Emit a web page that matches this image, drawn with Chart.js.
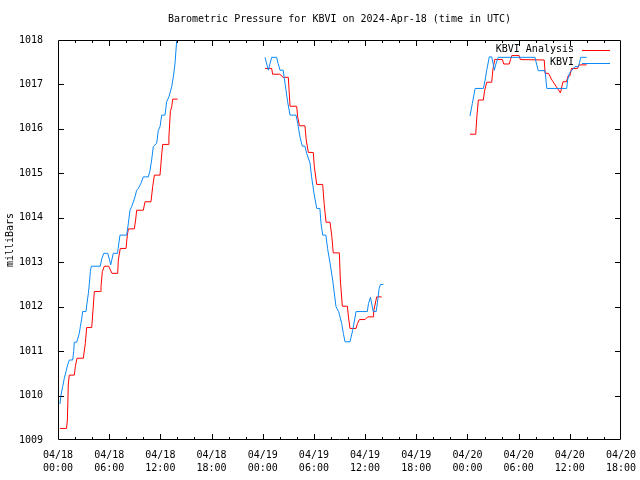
<!DOCTYPE html>
<html>
<head>
<meta charset="utf-8">
<script src="https://cdn.jsdelivr.net/npm/chart.js@4"></script>
<style>
  html, body { margin: 0; padding: 0; background: #fff; }
  canvas { display: block; }
</style>
</head>
<body>
<canvas id="chart" width="640" height="480"></canvas>
<script>
// hours since 04/18 00:00 UTC, null = gap in the record
const analysisHours = [
    0.23, 1.0, 1.1, 1.21, 1.32, 1.91, 2.03, 2.23, 2.97, 3.05, 3.2, 3.36, 3.95, 4.02, 4.26, 4.96, 5.04, 5.2, 5.43, 5.94,
    6.33, 7.0, 7.07, 7.3, 7.97, 8.13, 8.25, 8.95, 9.1, 9.22, 10.0, 10.2, 10.9, 11.1, 11.3, 11.96, 12.15, 12.27, 12.93,
    13.0, 13.17, 13.33, 13.45, 14.03,
    20,
    24.27, 25.05, 25.16, 26.0, 26.4, 27.0, 27.2, 27.98, 28.1, 28.3, 28.95, 29.1, 29.35, 29.93, 30.05, 30.33, 31.03,
    31.2, 31.42, 31.89, 32.1, 32.27, 32.98, 33.1, 33.33, 33.92, 34.05, 34.23, 34.94, 35.1, 35.33, 36.0, 36.3, 36.97,
    37.0, 37.36, 37.95,
    44,
    48.3, 48.97, 49.1, 49.28, 49.86, 50.0, 50.26, 50.84, 51.0, 51.2, 52.1, 52.25, 52.9, 53.05, 53.2, 54.05, 54.2,
    57.0, 57.1, 57.5, 57.9, 58.9, 59.2, 59.6, 59.8, 60.0, 60.2, 60.9, 61.1, 61.97
];
const analysisMb = [
    1009.26, 1009.26, 1009.45, 1010.26, 1010.46, 1010.46, 1010.65, 1010.84, 1010.84, 1010.96, 1011.17, 1011.53, 1011.53,
    1011.70, 1012.34, 1012.34, 1012.45, 1012.79, 1012.91, 1012.91, 1012.75, 1012.75, 1013.05, 1013.31, 1013.31, 1013.61,
    1013.75, 1013.75, 1013.95, 1014.17, 1014.17, 1014.36, 1014.36, 1014.70, 1014.96, 1014.96, 1015.41, 1015.65, 1015.65,
    1015.82, 1016.39, 1016.50, 1016.67, 1016.67,
    null,
    1017.36, 1017.36, 1017.23, 1017.23, 1017.16, 1017.16, 1016.51, 1016.51, 1016.27, 1016.07, 1016.07, 1015.75, 1015.47,
    1015.47, 1015.15, 1014.75, 1014.75, 1014.32, 1013.90, 1013.90, 1013.58, 1013.21, 1013.21, 1012.60, 1012.01, 1012.01,
    1011.77, 1011.51, 1011.51, 1011.62, 1011.71, 1011.71, 1011.77, 1011.77, 1011.89, 1012.22, 1012.22,
    null,
    1015.88, 1015.88, 1016.27, 1016.65, 1016.65, 1016.85, 1017.05, 1017.05, 1017.36, 1017.56, 1017.56, 1017.46, 1017.46,
    1017.56, 1017.65, 1017.65, 1017.56, 1017.55, 1017.25, 1017.25, 1017.10, 1016.81, 1017.06, 1017.06, 1017.19, 1017.19,
    1017.36, 1017.36, 1017.44, 1017.44
];

const kbviHours = [
    0.23, 0.35, 0.55, 0.74, 0.94, 1.13, 1.33, 1.72, 1.84, 1.91, 2.19, 2.3, 2.5, 2.62, 2.77, 2.89, 3.28, 3.4, 3.56, 3.68,
    3.79, 3.91, 4.96, 5.12, 5.36, 5.83, 6.05, 6.18, 6.48, 6.98, 7.05, 7.27, 8.05, 8.25, 8.44, 8.64, 9.03, 9.22, 9.42,
    9.73, 10.0, 10.59, 10.79, 10.98, 11.17, 11.57, 11.76, 11.96, 12.16, 12.54, 12.74, 13.0, 13.33, 13.52, 13.72, 13.92,
    14.1,
    20,
    24.27, 24.66, 25.05, 25.63, 25.8, 26.03, 26.4, 26.53, 26.73, 26.92, 27.2, 27.9, 28.1, 28.37, 28.64, 28.95, 29.15,
    29.54, 29.73, 30.01, 30.33, 30.7, 30.83, 31.03, 31.4, 31.6, 31.89, 32.2, 32.59, 32.9, 33.26, 33.45, 33.65, 34.23,
    34.55, 34.94, 36.26, 36.4, 36.63, 36.95, 37.3, 37.45, 37.65, 37.8, 38.14,
    44,
    48.3, 48.57, 48.9, 49.87, 50.07, 50.26, 50.56, 50.84, 51.04, 51.15, 51.3, 51.6, 55.92, 56.1, 56.3, 57.1, 57.3,
    59.63, 59.75, 59.94, 60.2, 60.6, 61.0, 61.15, 61.27, 61.97
];
const kbviMb = [
    1009.81, 1010.01, 1010.20, 1010.39, 1010.54, 1010.69, 1010.80, 1010.80, 1010.99, 1011.20, 1011.20, 1011.27, 1011.40,
    1011.55, 1011.72, 1011.89, 1011.89, 1012.08, 1012.30, 1012.53, 1012.79, 1012.91, 1012.91, 1013.07, 1013.20, 1013.20,
    1013.05, 1012.94, 1013.20, 1013.20, 1013.31, 1013.61, 1013.61, 1013.88, 1014.17, 1014.25, 1014.47, 1014.62, 1014.66,
    1014.78, 1014.92, 1014.92, 1015.07, 1015.30, 1015.60, 1015.68, 1015.97, 1016.05, 1016.31, 1016.31, 1016.61, 1016.72,
    1016.95, 1017.17, 1017.48, 1018.00, 1018.40,
    null,
    1017.61, 1017.32, 1017.61, 1017.61, 1017.47, 1017.32, 1017.32, 1017.14, 1016.87, 1016.61, 1016.31, 1016.31, 1016.13,
    1015.82, 1015.61, 1015.61, 1015.45, 1015.23, 1014.92, 1014.55, 1014.21, 1014.21, 1013.88, 1013.61, 1013.61, 1013.31,
    1012.98, 1012.60, 1012.00, 1011.89, 1011.62, 1011.40, 1011.21, 1011.21, 1011.47, 1011.89, 1011.89, 1012.07, 1012.21,
    1011.89, 1011.89, 1012.10, 1012.41, 1012.50, 1012.50,
    null,
    1016.29, 1016.57, 1016.91, 1016.91, 1017.10, 1017.32, 1017.62, 1017.62, 1017.44, 1017.32, 1017.44, 1017.61, 1017.61,
    1017.46, 1017.31, 1017.31, 1016.91, 1016.91, 1017.10, 1017.25, 1017.31, 1017.40, 1017.40, 1017.50, 1017.61, 1017.61
];

const xTickDates = ['04/18', '04/18', '04/18', '04/18', '04/19', '04/19', '04/19', '04/19', '04/20', '04/20', '04/20', '04/20'];
const xTickTimes = ['00:00', '06:00', '12:00', '18:00', '00:00', '06:00', '12:00', '18:00', '00:00', '06:00', '12:00', '18:00'];
const seriesNames = ['KBVI Analysis', 'KBVI'];
const seriesColors = ['#ff0000', '#0a88f5'];

const FONT = '10px "DejaVu Sans Mono", "Liberation Mono", monospace';

const toPoints = (hours, mb) => hours.map((h, i) => ({ x: h, y: mb[i] }));

// frame, inward ticks on all four sides, title, y label and gnuplot-like key
const gnuplotDecor = {
    id: 'gnuplotDecor',
    afterDraw(chart) {
        const ctx = chart.ctx;
        const area = chart.chartArea;
        const xs = chart.scales.x;
        const ys = chart.scales.y;
        ctx.save();
        ctx.strokeStyle = '#000';
        ctx.lineWidth = 1;
        ctx.beginPath();
        ctx.rect(area.left + 0.5, area.top + 0.5, area.right - area.left - 1, area.bottom - area.top - 1);
        ctx.stroke();

        ctx.beginPath();
        for (let h = 2; h < 66; h += 2) {
            const px = Math.round(xs.getPixelForValue(h)) + 0.5;
            const len = h % 6 === 0 ? 6 : 3;
            ctx.moveTo(px, area.bottom);
            ctx.lineTo(px, area.bottom - len);
            ctx.moveTo(px, area.top);
            ctx.lineTo(px, area.top + len);
        }
        for (let v = 1010; v < 1018; v++) {
            const py = Math.round(ys.getPixelForValue(v)) + 0.5;
            ctx.moveTo(area.left, py);
            ctx.lineTo(area.left + 6, py);
            ctx.moveTo(area.right, py);
            ctx.lineTo(area.right - 6, py);
        }
        ctx.stroke();

        ctx.fillStyle = '#000';
        ctx.font = FONT;
        ctx.textAlign = 'center';
        ctx.textBaseline = 'middle';
        ctx.fillText('Barometric Pressure for KBVI on 2024-Apr-18 (time in UTC)', (area.left + area.right) / 2, 19);

        ctx.save();
        ctx.translate(10, 240);
        ctx.rotate(-Math.PI / 2);
        ctx.fillText('milliBars', 0, 0);
        ctx.restore();

        // key
        const rows = [49.5, 62.5];
        seriesNames.forEach((name, i) => {
            ctx.fillStyle = '#000';
            ctx.textAlign = 'right';
            ctx.fillText(name, 574, rows[i]);
            ctx.strokeStyle = seriesColors[i];
            ctx.beginPath();
            ctx.moveTo(582, Math.round(rows[i]) + 0.5);
            ctx.lineTo(610, Math.round(rows[i]) + 0.5);
            ctx.stroke();
        });
        ctx.restore();
    }
};

new Chart(document.getElementById('chart'), {
    type: 'line',
    data: {
        datasets: [
            {
                label: seriesNames[0],
                data: toPoints(analysisHours, analysisMb),
                borderColor: seriesColors[0],
                order: 2
            },
            {
                label: seriesNames[1],
                data: toPoints(kbviHours, kbviMb),
                borderColor: seriesColors[1],
                order: 1
            }
        ]
    },
    options: {
        responsive: false,
        animation: false,
        spanGaps: false,
        layout: { padding: { top: 40, right: 19, left: 0, bottom: 0 } },
        elements: {
            point: { radius: 0 },
            line: { borderWidth: 1, tension: 0, fill: false }
        },
        plugins: {
            legend: { display: false },
            title: { display: false },
            tooltip: { enabled: false }
        },
        scales: {
            x: {
                type: 'linear',
                min: 0,
                max: 66,
                grid: { display: false },
                border: { display: false },
                afterFit: (scale) => {
                    scale.height = 40;
                    scale.paddingLeft = 0;
                    scale.paddingRight = 0;
                },
                ticks: {
                    stepSize: 6,
                    autoSkip: false,
                    maxRotation: 0,
                    padding: 1,
                    color: '#000',
                    font: { family: '"DejaVu Sans Mono", monospace', size: 10, lineHeight: 1.3 },
                    callback: (value) => {
                        const i = Math.round(value / 6);
                        return [xTickDates[i], xTickTimes[i]];
                    }
                }
            },
            y: {
                min: 1009,
                max: 1018,
                grid: { display: false },
                border: { display: false },
                afterFit: (scale) => {
                    scale.width = 58;
                    scale.paddingTop = 0;
                    scale.paddingBottom = 0;
                },
                ticks: {
                    stepSize: 1,
                    padding: 7,
                    color: '#000',
                    font: { family: '"DejaVu Sans Mono", monospace', size: 10 },
                    callback: (value) => String(value)
                }
            }
        }
    },
    plugins: [gnuplotDecor]
});
</script>
</body>
</html>
